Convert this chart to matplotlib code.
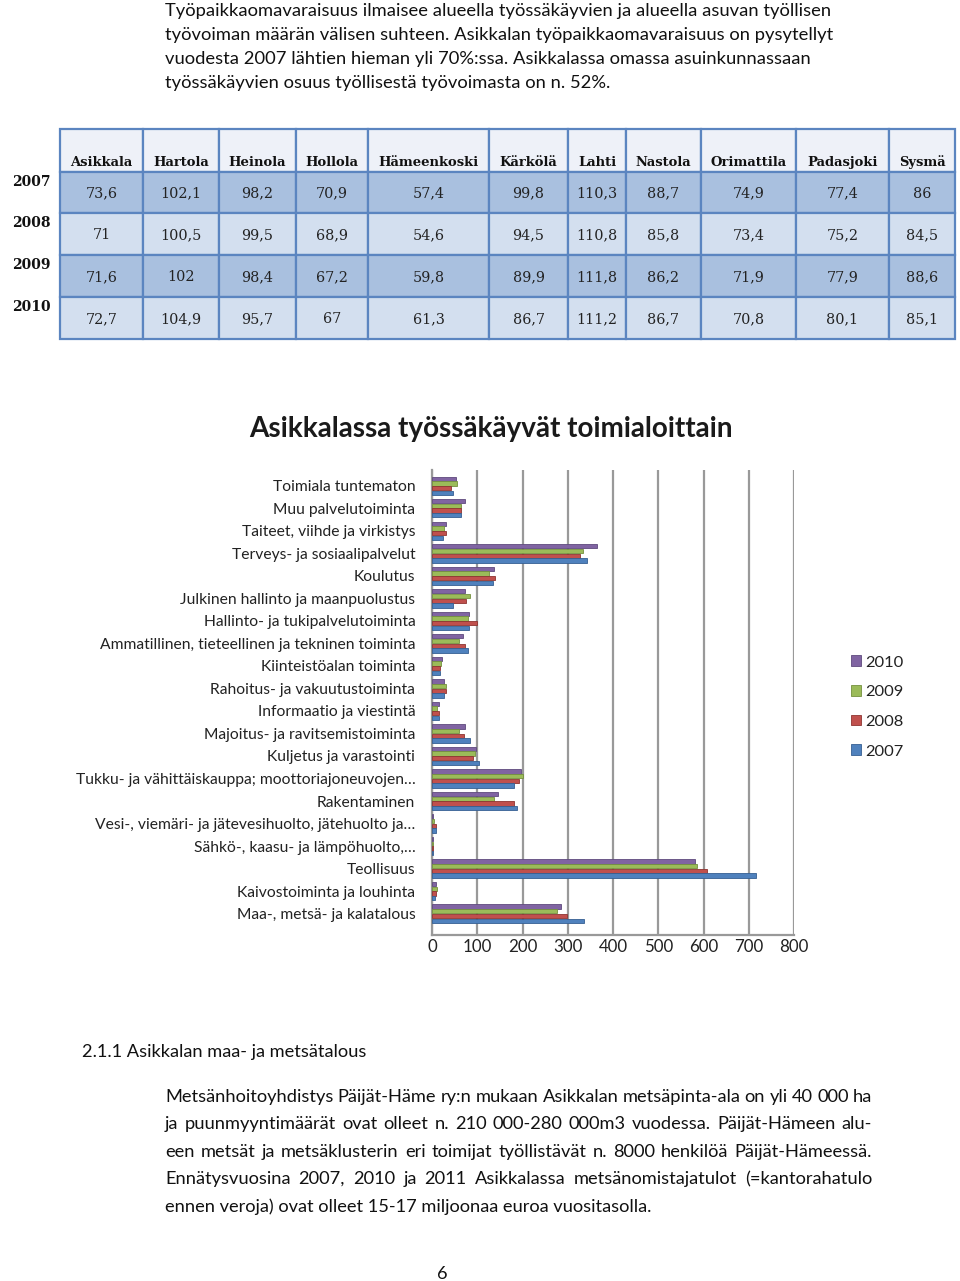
import numpy as np
import matplotlib
matplotlib.use("Agg")
import matplotlib.pyplot as plt
from matplotlib.patches import Rectangle

# --- data ---------------------------------------------------------------
kunnat = ["Asikkala", "Hartola", "Heinola", "Hollola", "Hämeenkoski", "Kärkölä",
          "Lahti", "Nastola", "Orimattila", "Padasjoki", "Sysmä"]
vuodet = ["2007", "2008", "2009", "2010"]
omavar_2007 = ["73,6", "102,1", "98,2", "70,9", "57,4", "99,8", "110,3", "88,7", "74,9", "77,4", "86"]
omavar_2008 = ["71", "100,5", "99,5", "68,9", "54,6", "94,5", "110,8", "85,8", "73,4", "75,2", "84,5"]
omavar_2009 = ["71,6", "102", "98,4", "67,2", "59,8", "89,9", "111,8", "86,2", "71,9", "77,9", "88,6"]
omavar_2010 = ["72,7", "104,9", "95,7", "67", "61,3", "86,7", "111,2", "86,7", "70,8", "80,1", "85,1"]

toimialat = [
    "Toimiala tuntematon",
    "Muu palvelutoiminta",
    "Taiteet, viihde ja virkistys",
    "Terveys- ja sosiaalipalvelut",
    "Koulutus",
    "Julkinen hallinto ja maanpuolustus",
    "Hallinto- ja tukipalvelutoiminta",
    "Ammatillinen, tieteellinen ja tekninen toiminta",
    "Kiinteistöalan toiminta",
    "Rahoitus- ja vakuutustoiminta",
    "Informaatio ja viestintä",
    "Majoitus- ja ravitsemistoiminta",
    "Kuljetus ja varastointi",
    "Tukku- ja vähittäiskauppa; moottoriajoneuvojen…",
    "Rakentaminen",
    "Vesi-, viemäri- ja jätevesihuolto, jätehuolto ja…",
    "Sähkö-, kaasu- ja lämpöhuolto,…",
    "Teollisuus",
    "Kaivostoiminta ja louhinta",
    "Maa-, metsä- ja kalatalous",
]
tk_2010 = [53, 73, 30, 364, 137, 74, 82, 68, 22, 27, 15, 72, 97, 197, 145, 3, 3, 581, 9, 286]
tk_2009 = [56, 65, 27, 333, 125, 83, 80, 60, 20, 30, 11, 60, 96, 200, 137, 5, 2, 586, 10, 277]
tk_2008 = [42, 63, 30, 326, 139, 76, 99, 73, 18, 30, 15, 70, 90, 193, 181, 8, 2, 607, 9, 298]
tk_2007 = [47, 65, 25, 342, 134, 47, 81, 80, 18, 26, 15, 83, 103, 181, 188, 9, 2, 715, 7, 337]
xticks = [0, 100, 200, 300, 400, 500, 600, 700, 800]

ylaosa = [
    "Työpaikkaomavaraisuus ilmaisee alueella työssäkäyvien ja alueella asuvan työllisen",
    "työvoiman määrän välisen suhteen. Asikkalan työpaikkaomavaraisuus on pysytellyt",
    "vuodesta 2007 lähtien hieman yli 70%:ssa. Asikkalassa omassa asuinkunnassaan",
    "työssäkäyvien osuus työllisestä työvoimasta on n. 52%.",
]
otsikko = "2.1.1 Asikkalan maa- ja metsätalous"
alaosa = [
    "Metsänhoitoyhdistys Päijät-Häme ry:n mukaan Asikkalan metsäpinta-ala on yli 40 000 ha",
    "ja puunmyyntimäärät ovat olleet n. 210 000-280 000m3 vuodessa. Päijät-Hämeen alu-",
    "een metsät ja metsäklusterin eri toimijat työllistävät n. 8000 henkilöä Päijät-Hämeessä.",
    "Ennätysvuosina 2007, 2010 ja 2011 Asikkalassa metsänomistajatulot (=kantorahatulo",
    "ennen veroja) ovat olleet 15-17 miljoonaa euroa vuositasolla.",
]

SANS = ["Lato", "DejaVu Sans"]
SERIF = ["DejaVu Serif"]

fig = plt.figure(figsize=(9.6, 12.81), dpi=100)
r = fig.canvas.get_renderer()
page = fig.add_axes([0, 0, 1, 1])
page.set_xlim(0, 960)
page.set_ylim(1281, 0)
page.axis("off")


def size_for(text, width, **kw):
    t = page.text(0, 0, text, fontsize=10, **kw)
    w = t.get_window_extent(r).width
    t.remove()
    return 10 * width / w


def txt(x, yc, s, size, **kw):
    # yc = visual middle of the line; put the baseline below it
    return page.text(x, yc + 0.36 * size * 100 / 72, s, fontsize=size, va="baseline", **kw)


# --- top paragraph ---
fs = size_for(ylaosa[0], 661, family=SANS)
for i, line in enumerate(ylaosa):
    txt(165, 9 + i * 24, line, fs, family=SANS, color="#111111")

# --- table ---
col_x = [60, 143, 219, 296, 368, 489, 568, 626, 701, 796, 889, 955]
row_y = [129, 172, 213, 255, 297, 339]
rivit = [omavar_2007, omavar_2008, omavar_2009, omavar_2010]
fills = ["#eef1f8", "#a9c0df", "#d3dfef", "#a9c0df", "#d3dfef"]
fs_h = size_for("Hämeenkoski", 101, family=SERIF, fontweight="bold")
fs_d = size_for("102,1", 41, family=SERIF)
for ri in range(5):
    for ci in range(len(kunnat)):
        x0, x1 = col_x[ci], col_x[ci + 1]
        y0, y1 = row_y[ri], row_y[ri + 1]
        page.add_patch(Rectangle((x0, y0), x1 - x0, y1 - y0, facecolor=fills[ri],
                                 edgecolor="#5b85c0", lw=1.6))
        if ri == 0:
            txt((x0 + x1) / 2, y1 - 11, kunnat[ci], fs_h, family=SERIF,
                fontweight="bold", ha="center", color="#111111")
        else:
            txt((x0 + x1) / 2, (y0 + y1) / 2, rivit[ri - 1][ci], fs_d,
                family=SERIF, ha="center", color="#222222")
for ri, v in enumerate(vuodet):
    txt(31, row_y[ri + 1] + 9, v, fs_h * 1.05, family=SERIF, fontweight="bold",
        ha="center", color="#111111")

# --- chart ---
fs_t = size_for("Asikkalassa työssäkäyvät toimialoittain", 484, family=SANS, fontweight="bold")
txt(491, 427, "Asikkalassa työssäkäyvät toimialoittain", fs_t, family=SANS,
    fontweight="bold", ha="center", color="#1a1a1a")

ax = fig.add_axes([432 / 960, 1 - 935 / 1281, 362 / 960, 465 / 1281])
y = np.arange(len(toimialat))
h = 0.19
series = [("2010", tk_2010, "#8064a2", "#5f4a7d", -1.5),
          ("2009", tk_2009, "#9bbb59", "#74903e", -0.5),
          ("2008", tk_2008, "#c0504d", "#8e3431", 0.5),
          ("2007", tk_2007, "#4f81bd", "#355f92", 1.5)]
handles = []
for name, vals, col, ecol, k in series:
    b = ax.barh(y + k * h * 1.1, vals, height=h, color=col, edgecolor=ecol, lw=0.6,
                label=name, zorder=3)
    handles.append(b)
ax.set_xlim(0, 800)
ax.set_ylim(len(toimialat) - 1 + 0.95, -0.7)
ax.set_xticks(xticks)
ax.set_yticks(y)
fs_c = size_for(toimialat[7], 316, family=SANS)
ax.set_yticklabels(toimialat, fontsize=fs_c, family=SANS, color="#222222")
ax.set_xticklabels([str(v) for v in xticks], fontsize=fs_c * 1.08, family=SANS, color="#222222")
ax.tick_params(axis="y", length=0, pad=12)
ax.tick_params(axis="x", length=0, pad=3)
ax.grid(axis="x", color="#999999", lw=1.6, zorder=0)
for s in ["top", "right"]:
    ax.spines[s].set_visible(False)
for s in ["left", "bottom"]:
    ax.spines[s].set_color("#999999")
    ax.spines[s].set_linewidth(1.6)
ax.set_facecolor("none")

leg = fig.legend(handles=handles, loc="center left", bbox_to_anchor=(836 / 960, 1 - 707 / 1281),
                 frameon=False, prop={"family": SANS, "size": fs_c * 1.05},
                 handlelength=0.6, handleheight=0.6, handletextpad=0.3, labelspacing=0.95)
for t in leg.get_texts():
    t.set_color("#222222")

# --- bottom text ---
fs_b = size_for(alaosa[-1], 488, family=SANS)
fs_o = size_for(otsikko, 284, family=SANS)
txt(82, 1050, otsikko, fs_o, family=SANS, color="#111111")

for i, line in enumerate(alaosa):
    yy = 1095 + i * 27.5
    if i == len(alaosa) - 1:
        txt(165, yy, line, fs_b, family=SANS, color="#111111")
        continue
    words = line.split(" ")
    texts = [txt(0, yy, w, fs_b, family=SANS, color="#111111") for w in words]
    widths = [t.get_window_extent(r).width for t in texts]
    gap = (872 - 165 - sum(widths)) / (len(words) - 1)
    x = 165
    for t, w in zip(texts, widths):
        t.set_x(x)
        x += w + gap

txt(442, 1272, "6", fs_b, family=SANS, ha="center", color="#111111")

fig.savefig("out.png", dpi=100)
